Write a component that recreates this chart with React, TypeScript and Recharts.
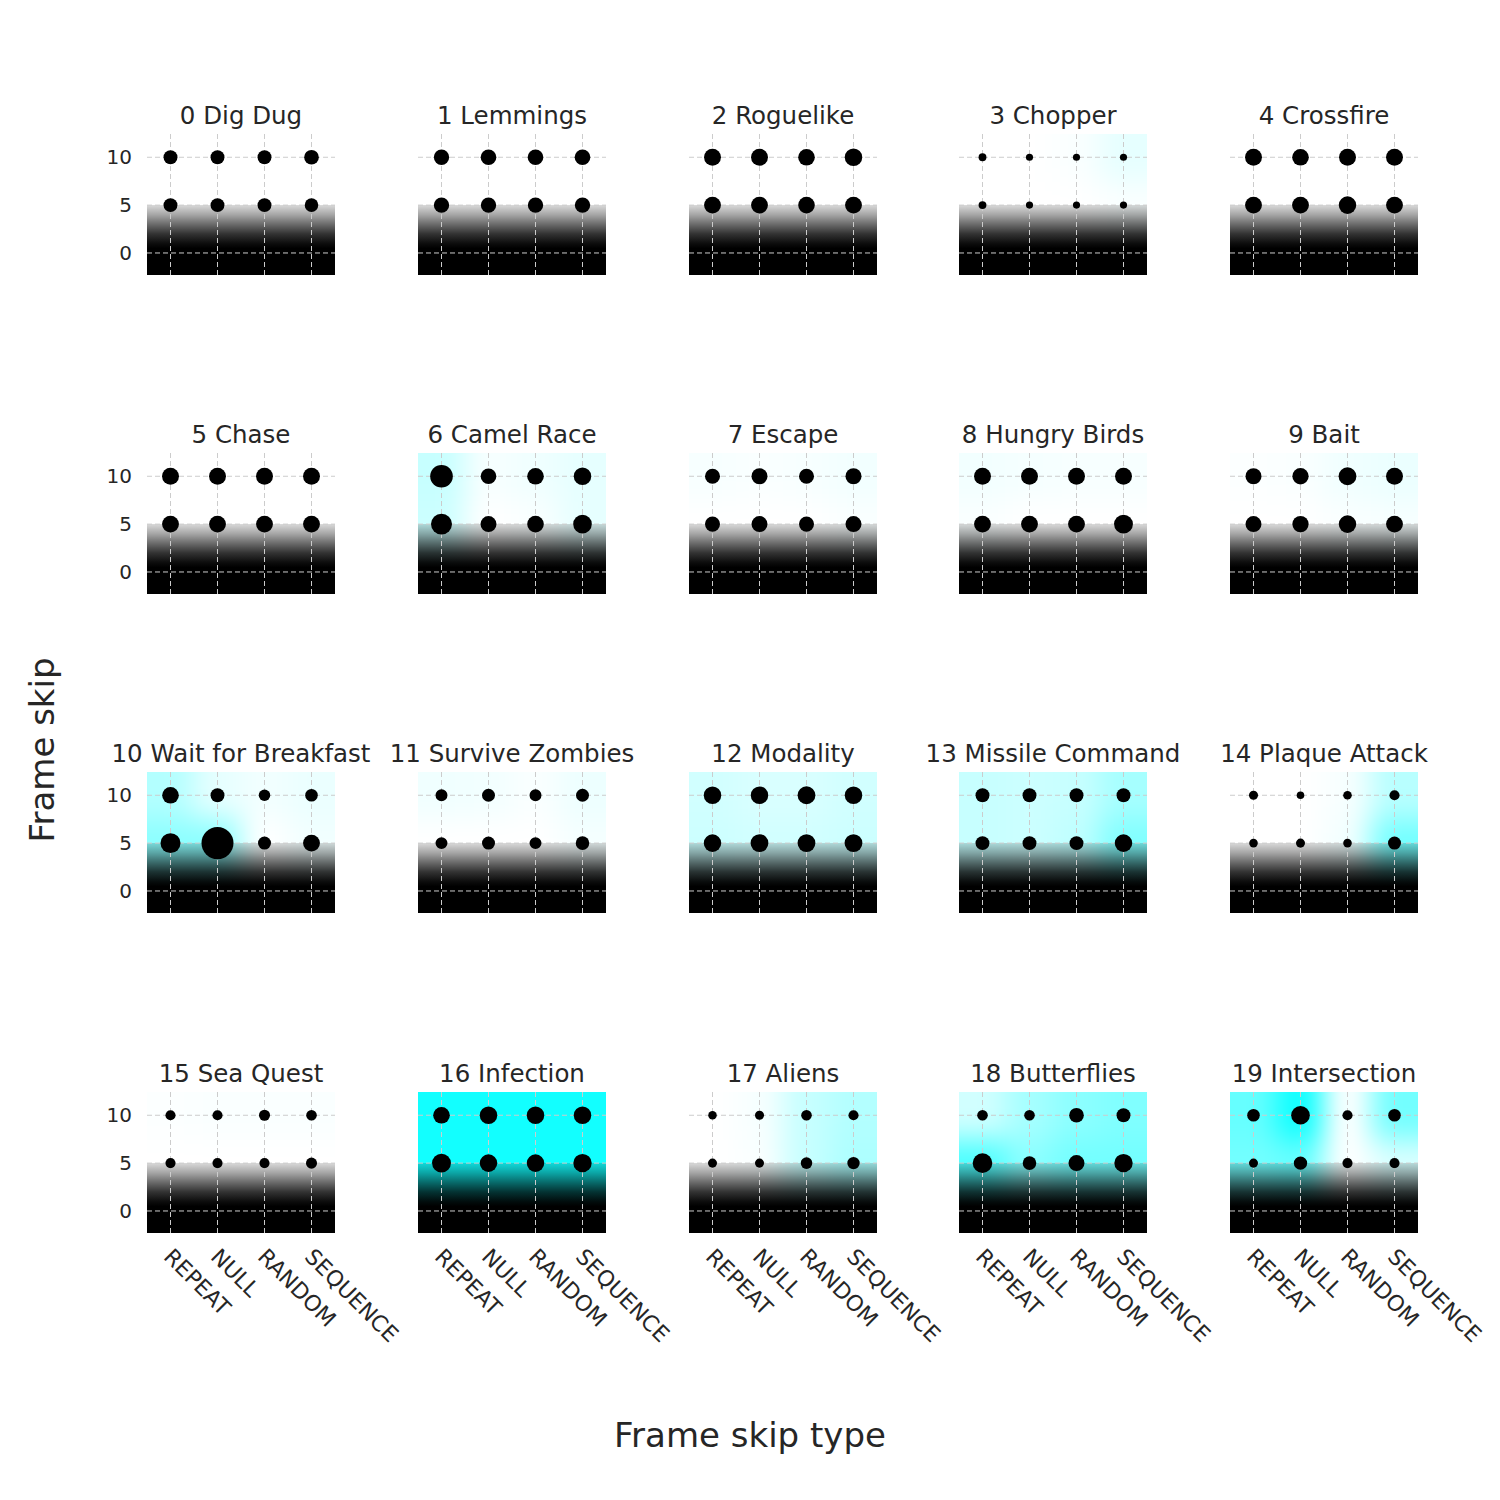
import { ScatterChart, Scatter, XAxis, YAxis, ZAxis, ReferenceArea, ReferenceLine } from "recharts"

const games = [
  "0 Dig Dug", "1 Lemmings", "2 Roguelike", "3 Chopper", "4 Crossfire",
  "5 Chase", "6 Camel Race", "7 Escape", "8 Hungry Birds", "9 Bait",
  "10 Wait for Breakfast", "11 Survive Zombies", "12 Modality", "13 Missile Command", "14 Plaque Attack",
  "15 Sea Quest", "16 Infection", "17 Aliens", "18 Butterflies", "19 Intersection",
]
const skipTypes = ["REPEAT", "NULL", "RANDOM", "SEQUENCE"]
const frameSkips = [10, 5]
const xTicks = [0, 1, 2, 3]
const yTicks = [0, 5, 10]

// dot size score per game, one value per frame skip type
const scoreAt10 = [
  [19, 19, 19, 21], [23, 24, 24, 24], [28, 28, 27, 30], [6, 5, 5, 5], [28, 27, 28, 28],
  [28, 28, 28, 28], [50, 24, 27, 30], [22, 25, 22, 25], [28, 28, 28, 28], [25, 26, 31, 28],
  [27, 19, 13, 15.5], [14, 16.5, 14, 16.5], [30, 30, 31, 30], [19, 19, 19, 19], [8, 5.6, 7.2, 10],
  [10, 10, 12, 11], [27, 30, 30, 30], [7, 8, 11, 10], [11, 11, 21, 19], [15.5, 34, 10, 15.5],
]
const scoreAt5 = [
  [19, 19, 19, 18], [23, 23, 23, 23], [28, 28, 27, 28], [6, 5, 5, 5], [28, 28, 30, 28],
  [28, 28, 28, 28], [43, 25, 27, 34], [22, 25, 22, 25], [28, 28, 28, 35], [25, 26, 30, 28],
  [39, 100, 16.5, 28], [14, 16.5, 14, 18], [30, 31, 31, 31], [19, 19, 19, 30], [7.2, 8, 7.2, 16.5],
  [10, 10, 10, 12], [35, 30, 30, 33], [8, 8, 13, 15], [37.5, 18, 25, 33], [8, 17.5, 10, 10],
]

// background cyan tint (0 = white, 1 = full cyan)
const tintAt10 = [
  [0, 0, 0, 0], [0, 0, 0, 0], [0, 0, 0, 0], [0, 0, 0.02, 0.1], [0, 0, 0, 0],
  [0, 0, 0, 0], [0.22, 0.03, 0.06, 0.1], [0.03, 0.02, 0.03, 0.05], [0.05, 0.04, 0.03, 0.03], [0.01, 0.02, 0.06, 0.08],
  [0.3, 0.1, 0.05, 0.08], [0.06, 0.05, 0.02, 0.07], [0.18, 0.15, 0.15, 0.18], [0.22, 0.2, 0.22, 0.35], [0, 0, 0.03, 0.28],
  [0.01, 0.02, 0.02, 0.02], [0.93, 0.93, 0.93, 0.93], [0, 0.03, 0.22, 0.3], [0.18, 0.35, 0.45, 0.5], [0.6, 0.95, 0, 0.55],
]
const tintAt5 = [
  [0, 0, 0, 0], [0, 0, 0, 0], [0, 0, 0, 0], [0, 0, 0, 0.02], [0, 0, 0, 0],
  [0, 0, 0, 0], [0.2, 0, 0.02, 0.1], [0, 0, 0, 0.02], [0.02, 0, 0, 0], [0, 0, 0.02, 0.03],
  [0.45, 0.45, 0, 0.05], [0, 0, 0, 0.04], [0.2, 0.18, 0.18, 0.2], [0.22, 0.2, 0.25, 0.5], [0, 0, 0.05, 0.55],
  [0, 0, 0, 0], [0.93, 0.93, 0.93, 0.93], [0, 0.02, 0.22, 0.32], [0.7, 0.45, 0.55, 0.55], [0.55, 0.6, 0, 0.15],
]

const PW = 188
const PH = 141
const X_DOMAIN: [number, number] = [-0.5, 3.5]
const Y_DOMAIN: [number, number] = [-2.3, 12.43]
const CELL_W = PW / 4
const CELL_H = (PH * 5) / (Y_DOMAIN[1] - Y_DOMAIN[0])
const colLeft = [147, 418, 689, 959, 1230]
const rowTop = [134, 453, 772, 1092]
const TEXT = "#262626"
const GRID = "#cccccc"

const tintColor = (t: number) => `rgb(${Math.round(255 * (1 - t))},255,255)`

function cellsFor(g: number) {
  const out: { x: number; y: number; t: number }[] = []
  for (let xi = -1; xi <= 4; xi++) {
    const c = Math.min(3, Math.max(0, xi))
    for (const y of [-5, 0, 5, 10, 15]) {
      out.push({ x: xi, y, t: y >= 10 ? tintAt10[g][c] : tintAt5[g][c] })
    }
  }
  return out
}

function dotsFor(g: number) {
  const out: { x: number; y: number; z: number }[] = []
  skipTypes.forEach((_, i) => {
    frameSkips.forEach((fs) => {
      out.push({ x: i, y: fs, z: fs === 10 ? scoreAt10[g][i] : scoreAt5[g][i] })
    })
  })
  return out
}

const CellShape = (p: any) => (
  <rect
    x={p.cx - CELL_W / 2 - 0.5}
    y={p.cy - CELL_H / 2 - 0.5}
    width={CELL_W + 1}
    height={CELL_H + 1}
    fill={tintColor(p.payload.t)}
  />
)

const XTick = (p: any) => {
  const ax = p.x - 8
  const ay = p.y + 25
  return (
    <text x={ax} y={ay} transform={`rotate(45 ${ax} ${ay})`} fontSize={22} fill={TEXT} textAnchor="start">
      {skipTypes[p.payload.value]}
    </text>
  )
}

function Panel({ g }: { g: number }) {
  const col = g % 5
  const row = Math.floor(g / 5)
  return (
    <div className="panel" style={{ position: "absolute", left: colLeft[col] - 60, top: rowTop[row] - 10 }}>
      <ScatterChart width={328} height={271} margin={{ top: 10, right: 80, bottom: 0, left: 0 }}>
        <XAxis
          type="number"
          dataKey="x"
          domain={X_DOMAIN}
          ticks={xTicks}
          allowDataOverflow
          axisLine={false}
          tickLine={false}
          tickSize={0}
          tickMargin={0}
          height={120}
          interval={0}
          tick={row === 3 ? <XTick /> : false}
        />
        <YAxis
          type="number"
          dataKey="y"
          domain={Y_DOMAIN}
          ticks={yTicks}
          allowDataOverflow
          axisLine={false}
          tickLine={false}
          tickSize={0}
          tickMargin={15}
          width={60}
          interval={0}
          tick={col === 0 ? { fontSize: 20, fill: TEXT } : false}
        />
        <ZAxis type="number" dataKey="z" domain={[0, 100]} range={[0, 804]} />
        <Scatter
          className="bgcells"
          data={cellsFor(g)}
          shape={CellShape}
          isAnimationActive={false}
          zIndex={-300}
        />
        <ReferenceArea
          x1={-0.5}
          x2={3.5}
          y1={Y_DOMAIN[0]}
          y2={5}
          fill="url(#shade)"
          fillOpacity={1}
          stroke="none"
          ifOverflow="visible"
          zIndex={-200}
        />
        {yTicks.map((t) => (
          <ReferenceLine key={`h${t}`} y={t} stroke={GRID} strokeDasharray="5 3" zIndex={-100} />
        ))}
        {xTicks.map((t) => (
          <ReferenceLine key={`v${t}`} x={t} stroke={GRID} strokeDasharray="5 3" zIndex={-100} />
        ))}
        <Scatter data={dotsFor(g)} fill="#000000" isAnimationActive={false} />
      </ScatterChart>
    </div>
  )
}

export default function App() {
  return (
    <div
      style={{
        position: "absolute",
        left: 0,
        top: 0,
        width: 1500,
        height: 1500,
        background: "#ffffff",
        fontFamily: "'DejaVu Sans', sans-serif",
        overflow: "hidden",
      }}
    >
      <style>{".bgcells{filter:url(#bgBlur)}"}</style>
      <svg width={0} height={0} style={{ position: "absolute" }}>
        <defs>
          <filter id="bgBlur" colorInterpolationFilters="sRGB">
            <feGaussianBlur stdDeviation="14" />
          </filter>
          <linearGradient id="shade" x1="0" y1="0" x2="0" y2="1">
            <stop offset="0" stopColor="#000" stopOpacity={0.15} />
            <stop offset="0.137" stopColor="#000" stopOpacity={0.35} />
            <stop offset="0.274" stopColor="#000" stopOpacity={0.58} />
            <stop offset="0.411" stopColor="#000" stopOpacity={0.8} />
            <stop offset="0.548" stopColor="#000" stopOpacity={0.95} />
            <stop offset="0.62" stopColor="#000" stopOpacity={1} />
            <stop offset="1" stopColor="#000" stopOpacity={1} />
          </linearGradient>
        </defs>
      </svg>
      <svg width={1500} height={1500} style={{ position: "absolute", left: 0, top: 0 }}>
        {games.map((name, g) => (
          <text
            key={name}
            x={colLeft[g % 5] + PW / 2}
            y={rowTop[Math.floor(g / 5)] - 10.5}
            textAnchor="middle"
            fontSize={24.5}
            fill={TEXT}
          >
            {name}
          </text>
        ))}
        <text x={750} y={1447} textAnchor="middle" fontSize={34} fill={TEXT}>
          Frame skip type
        </text>
        <text x={53.5} y={750} textAnchor="middle" fontSize={34} fill={TEXT} transform="rotate(-90 53.5 750)">
          Frame skip
        </text>
      </svg>
      {games.map((name, g) => (
        <Panel key={name} g={g} />
      ))}
    </div>
  )
}
